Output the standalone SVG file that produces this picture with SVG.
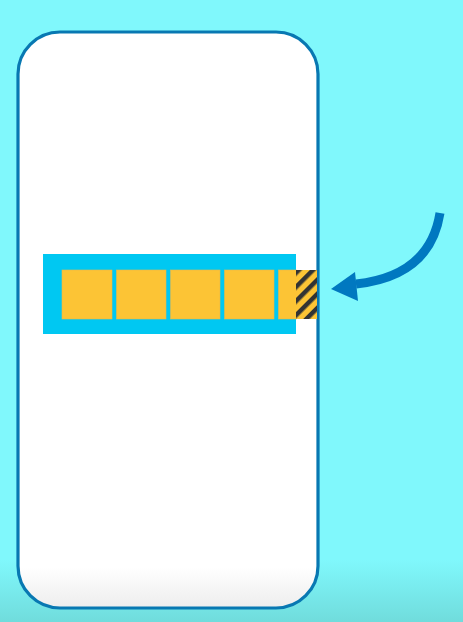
<svg xmlns="http://www.w3.org/2000/svg" width="463" height="622" viewBox="0 0 463 622">
<defs>
<linearGradient id="bg" x1="0" y1="0" x2="0" y2="1">
<stop offset="0" stop-color="#80f8fc"/>
<stop offset="0.9" stop-color="#80f8fc"/>
<stop offset="1" stop-color="#70dcdc"/>
</linearGradient>
<linearGradient id="ph" x1="0" y1="0" x2="0" y2="1">
<stop offset="0" stop-color="#ffffff"/>
<stop offset="0.93" stop-color="#ffffff"/>
<stop offset="1" stop-color="#ededed"/>
</linearGradient>
<pattern id="hatch" patternUnits="userSpaceOnUse" width="10" height="10" patternTransform="rotate(45)">
<rect width="10" height="10" fill="#fcc435"/>
<rect x="0" width="4.5" height="10" fill="#333333"/>
</pattern>
<style>
.sq{fill:#fcc435;stroke:#e8b84a;stroke-width:0.6}
</style>
</defs>
<rect width="463" height="622" fill="url(#bg)"/>
<g id="phone">
<rect x="18" y="32" width="300" height="576" rx="42" ry="42" fill="url(#ph)" stroke="#0878b2" stroke-width="3.2"/>
</g>
<g id="queue">
<rect x="43" y="254" width="253" height="80" fill="#00c8f2"/>
<rect class="sq" x="62" y="270" width="50" height="49"/>
<rect class="sq" x="116.5" y="270" width="49.5" height="49"/>
<rect class="sq" x="170.5" y="270" width="49.5" height="49"/>
<rect class="sq" x="224.5" y="270" width="49.5" height="49"/>
<rect class="sq" x="278.5" y="270" width="18" height="49"/>
<rect x="296" y="270" width="21" height="49" fill="url(#hatch)"/>
</g>
<g id="connectors">
<path d="M440 213 Q 430 276 356 284" fill="none" stroke="#0078c0" stroke-width="9"/>
<polygon points="331,289 355,272 358,301" fill="#0078c0"/>
</g>
</svg>
